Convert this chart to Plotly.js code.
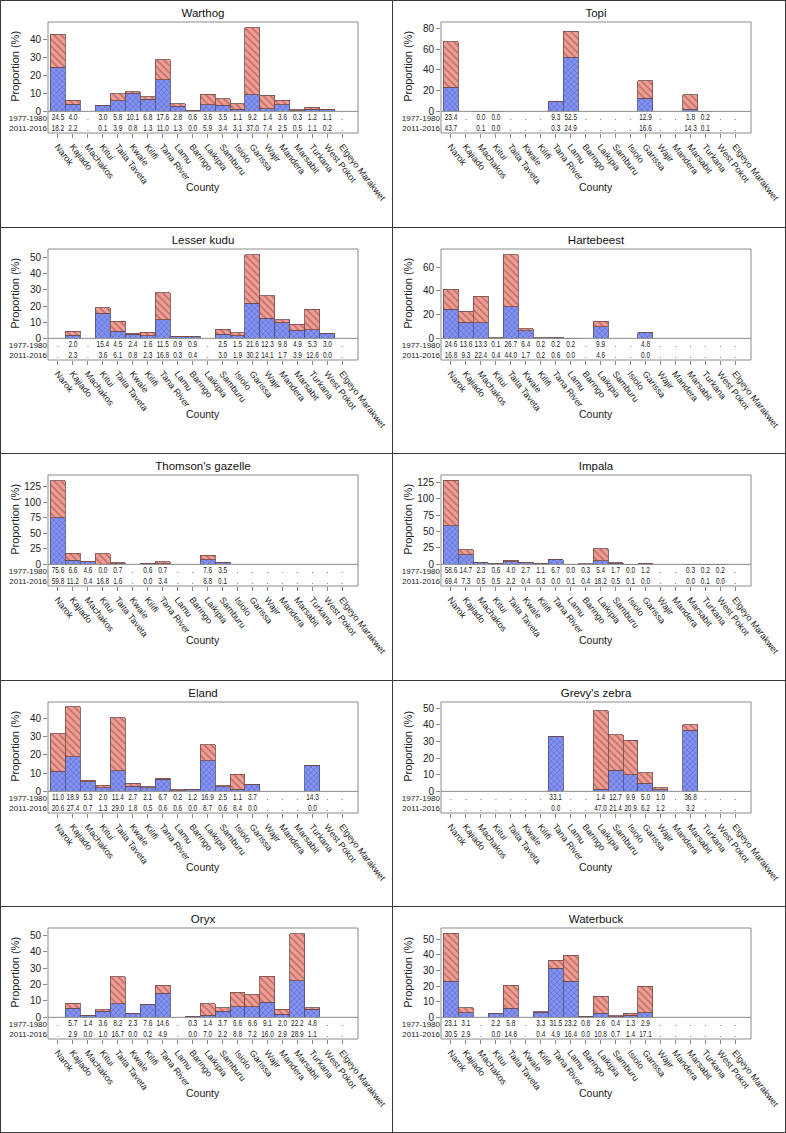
<!DOCTYPE html>
<html>
<head>
<meta charset="utf-8">
<script src="https://cdn.plot.ly/plotly-3.0.1.min.js"></script>
<style>
  body { margin: 0; background: #fff; }
  #wrap { position: relative; width: 786px; height: 1133px; overflow: hidden; background: #fff; }
  .cell { position: absolute; width: 393px; overflow: visible; }
  .cell svg { overflow: visible; }
  .ln { position: absolute; background: #3a3a3a; pointer-events: none; }
  /* narrow the table numbers like the original */
  .textpoint text { transform-box: fill-box; transform-origin: center; transform: scaleX(0.72); }
</style>
</head>
<body>
<div id="wrap"></div>
<script>
// ==== data ====
const counties = ["Narok", "Kajiado", "Machakos", "Kitui", "Taita Taveta", "Kwale", "Kilifi",
  "Tana River", "Lamu", "Baringo", "Laikipia", "Samburu", "Isiolo", "Garissa", "Wajir",
  "Mandera", "Marsabit", "Turkana", "West Pokot", "Elgeyo Marakwet"];
const periods = ["1977-1980", "2011-2016"];
const N = null; // "." in the table

const warthog1977 = [24.5, 4.0, N, 3.0, 5.8, 10.1, 6.8, 17.6, 2.8, 0.6, 3.6, 3.5, 1.1, 9.2, 1.4, 3.6, 0.3, 1.2, 1.1, N];
const warthog2011 = [18.2, 2.2, N, 0.1, 3.9, 0.8, 1.3, 11.0, 1.3, 0.0, 5.9, 3.4, 3.1, 37.0, 7.4, 2.5, 0.5, 1.1, 0.2, N];

const topi1977 = [23.4, N, 0.0, 0.0, N, N, N, 9.3, 52.5, N, N, N, N, 12.9, N, N, 1.8, 0.2, N, N];
const topi2011 = [43.7, N, 0.1, 0.0, N, N, N, 0.3, 24.9, N, N, N, N, 16.6, N, N, 14.3, 0.1, N, N];

const kudu1977 = [N, 2.0, N, 15.4, 4.5, 2.4, 1.6, 11.5, 0.9, 0.9, N, 2.5, 1.5, 21.6, 12.3, 9.8, 4.9, 5.3, 3.0, N];
const kudu2011 = [N, 2.3, N, 3.6, 6.1, 0.8, 2.3, 16.8, 0.3, 0.4, N, 3.0, 1.9, 30.2, 14.1, 1.7, 3.9, 12.6, 0.0, N];

const harte1977 = [24.6, 13.6, 13.3, 0.1, 26.7, 6.4, 0.2, 0.2, 0.2, N, 9.9, N, N, 4.8, N, N, N, N, N, N];
const harte2011 = [16.8, 9.3, 22.4, 0.4, 44.0, 1.7, 0.2, 0.6, 0.0, N, 4.6, N, N, 0.0, N, N, N, N, N, N];

const tommy1977 = [75.6, 6.6, 4.6, 0.0, 0.7, N, 0.6, 0.7, N, N, 7.6, 3.5, N, N, N, N, N, N, N, N];
const tommy2011 = [59.8, 11.2, 0.4, 16.8, 1.6, N, 0.0, 3.4, N, N, 6.8, 0.1, N, N, N, N, N, N, N, N];

const impala1977 = [58.6, 14.7, 2.3, 0.6, 4.0, 2.7, 1.1, 6.7, 0.0, 0.3, 5.4, 1.7, 0.0, 1.2, N, N, 0.3, 0.2, 0.2, N];
const impala2011 = [69.4, 7.3, 0.5, 0.5, 2.2, 0.4, 0.3, 0.0, 0.1, 0.4, 18.2, 0.5, 0.1, 0.0, N, N, 0.0, 0.1, 0.0, N];

const eland1977 = [11.0, 18.9, 5.3, 2.0, 11.4, 2.7, 2.1, 6.7, 0.2, 1.2, 16.9, 2.5, 1.1, 3.7, N, N, N, 14.3, N, N];
const eland2011 = [20.6, 27.4, 0.7, 1.3, 29.0, 1.8, 0.5, 0.6, 0.6, 0.0, 8.7, 0.6, 8.4, 0.0, N, N, N, 0.0, N, N];

const grevy1977 = [N, N, N, N, N, N, N, 33.1, N, N, 1.4, 12.7, 9.9, 5.0, 1.0, N, 36.8, N, N, N];
const grevy2011 = [N, N, N, N, N, N, N, 0.0, N, N, 47.0, 21.4, 20.9, 6.2, 1.2, N, 3.2, N, N, N];

const oryx1977 = [N, 5.7, 1.4, 3.6, 8.2, 2.3, 7.6, 14.6, N, 0.3, 1.4, 3.7, 6.6, 6.6, 9.1, 2.0, 22.2, 4.8, N, N];
const oryx2011 = [N, 2.9, 0.0, 1.0, 16.7, 0.0, 0.2, 4.9, N, 0.0, 7.0, 2.2, 8.8, 7.2, 16.0, 2.9, 28.9, 1.1, N, N];

const waterbuck1977 = [23.1, 3.1, N, 2.2, 5.8, N, 3.3, 31.5, 23.2, 0.8, 2.6, 0.4, 1.3, 2.9, N, N, N, N, N, N];
const waterbuck2011 = [30.5, 2.9, N, 0.0, 14.8, N, 0.4, 4.9, 16.4, 0.0, 10.8, 0.7, 1.4, 17.1, N, N, N, N, N, N];

// panels: [title, early, late, yMax, dtick]
const panels = [
  ["Warthog", warthog1977, warthog2011, 49.4, 10],
  ["Topi", topi1977, topi2011, 86.4, 20],
  ["Lesser kudu", kudu1977, kudu2011, 55.3, 10],
  ["Hartebeest", harte1977, harte2011, 75.4, 20],
  ["Thomson's gazelle", tommy1977, tommy2011, 144.3, 25],
  ["Impala", impala1977, impala2011, 136.3, 25],
  ["Eland", eland1977, eland2011, 49.0, 10],
  ["Grevy's zebra", grevy1977, grevy2011, 53.7, 10],
  ["Oryx", oryx1977, oryx2011, 54.5, 10],
  ["Waterbuck", waterbuck1977, waterbuck2011, 57.1, 10]
];

// ==== drawing ====
const FONT = "Arial, 'Liberation Sans', sans-serif";
const W = 393;
const ROW_H = 1133 / 5;
const TAB = 0.195; // share of plot height used by the value table
const wrap = document.getElementById("wrap");
const idx = counties.map((_, i) => i);
const fmt = (v) => (v === null ? "." : v.toFixed(1));

panels.forEach(([name, early, late, yMax, dtick], k) => {
  const col = k % 2;
  const row = Math.floor(k / 2);
  const top = Math.round(row * ROW_H);
  const H = Math.round((row + 1) * ROW_H) - top;

  const div = document.createElement("div");
  div.className = "cell";
  div.style.left = col * W + "px";
  div.style.top = top + "px";
  div.style.height = H + "px";
  wrap.appendChild(div);

  const data = [
    {
      type: "bar", x: idx, y: early, xaxis: "x", yaxis: "y", name: periods[0],
      marker: {
        color: "#7f8ef0",
        line: { color: "#46507e", width: 0.8 },
        pattern: { shape: "x", size: 4, solidity: 0.3, fgcolor: "#5a67d2", bgcolor: "#8594f0" }
      },
      hoverinfo: "skip"
    },
    {
      type: "bar", x: idx, y: late, xaxis: "x", yaxis: "y", name: periods[1],
      marker: {
        color: "#ea998f",
        line: { color: "#6e4a4a", width: 0.8 },
        pattern: { shape: "\\", size: 5, solidity: 0.3, fgcolor: "#c56a63", bgcolor: "#ec9f95" }
      },
      hoverinfo: "skip"
    },
    {
      type: "scatter", mode: "text", x: idx, y: idx.map(() => 1), xaxis: "x", yaxis: "y2",
      text: early.map(fmt), textfont: { size: 9, color: "#222", family: FONT }, hoverinfo: "skip"
    },
    {
      type: "scatter", mode: "text", x: idx, y: idx.map(() => 0), xaxis: "x", yaxis: "y2",
      text: late.map(fmt), textfont: { size: 9, color: "#222", family: FONT }, hoverinfo: "skip"
    }
  ];

  const layout = {
    width: W,
    height: H,
    margin: { l: 48, r: 35, t: 22, b: H - 133 },
    paper_bgcolor: "rgba(0,0,0,0)",
    plot_bgcolor: "#fff",
    showlegend: false,
    barmode: "stack",
    bargap: 0,
    font: { family: FONT, size: 10, color: "#222" },
    title: {
      text: name, x: 0.5, xref: "paper", xanchor: "center",
      y: 1 - 13 / H, yref: "container", yanchor: "middle",
      font: { size: 11.5, color: "#111" }
    },
    xaxis: {
      anchor: "y2", range: [-0.66, 20.05], tickmode: "array", tickvals: idx, ticktext: counties,
      tickangle: 52, ticks: "outside", ticklen: 4, tickcolor: "#888", ticklabeloverflow: "allow",
      showgrid: false, zeroline: false, showline: false, tickfont: { size: 9 }
    },
    yaxis: {
      domain: [TAB, 1], range: [0, yMax], dtick: dtick, tick0: 0,
      ticks: "outside", ticklen: 4, tickcolor: "#888",
      showgrid: false, zeroline: false, showline: false, tickfont: { size: 10 }
    },
    yaxis2: {
      domain: [0, TAB], range: [-0.41, 1.63], anchor: "x", tickmode: "array",
      tickvals: [1, 0], ticktext: periods, ticks: "", showgrid: false,
      zeroline: false, showline: false, tickfont: { size: 8 }
    },
    shapes: [
      { type: "rect", xref: "paper", yref: "paper", x0: 0, x1: 1, y0: 0, y1: 1,
        line: { color: "#8a8a8a", width: 1 } },
      { type: "line", xref: "paper", yref: "paper", x0: 0, x1: 1, y0: TAB, y1: TAB,
        line: { color: "#8a8a8a", width: 1 } }
    ],
    annotations: [
      { text: "County", xref: "paper", yref: "paper", x: 0.5, y: -0.49,
        xanchor: "center", yanchor: "middle", showarrow: false, font: { size: 10.5 } },
      { text: "Proportion (%)", xref: "paper", yref: "paper", x: -0.106, y: 0.597,
        xanchor: "center", yanchor: "middle", textangle: -90, showarrow: false, font: { size: 11 } }
    ]
  };

  Plotly.newPlot(div, data, layout, { staticPlot: true, displayModeBar: false });
});

// panel borders
function line(x, y, w, h) {
  const d = document.createElement("div");
  d.className = "ln";
  d.style.left = x + "px";
  d.style.top = y + "px";
  d.style.width = w + "px";
  d.style.height = h + "px";
  wrap.appendChild(d);
}
line(0, 0, 786, 1);
line(0, 1132, 786, 1);
line(0, 0, 1, 1133);
line(785, 0, 1, 1133);
line(392, 0, 1, 1133);
for (let r = 1; r < 5; r++) line(0, Math.round(r * ROW_H), 786, 1);
</script>
</body>
</html>
